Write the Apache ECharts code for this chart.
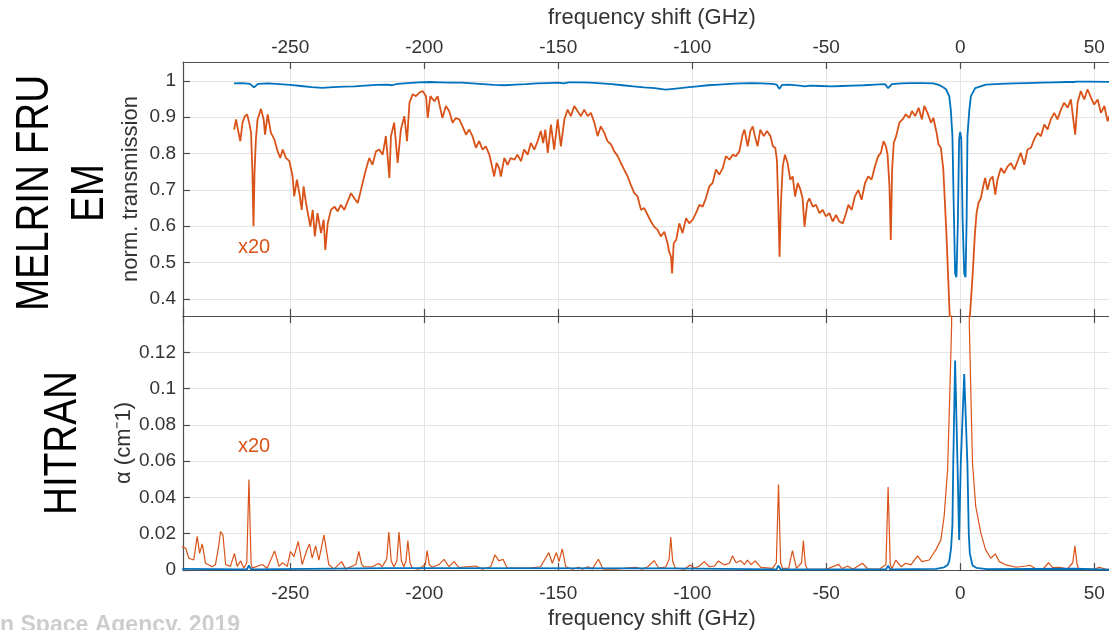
<!DOCTYPE html>
<html>
<head>
<meta charset="utf-8">
<script src="https://cdn.jsdelivr.net/npm/echarts@6/dist/echarts.min.js"></script>
<style>
html,body{margin:0;padding:0;background:#fff;}
#chart{width:1109px;height:630px;}
</style>
</head>
<body>
<div id="chart"></div>
<script>
// ---------- DATA ----------
// frequency shift (GHz) axis extent and tick step
const freqMin = -290, freqMax = 60, freqStep = 50;
// top panel: normalised transmission range
const transMin = 0.353, transMax = 1.052, transStep = 0.1;
// bottom panel: absorption coefficient range
const alphaMin = 0, alphaMax = 0.14, alphaStep = 0.02;

// MELRIN FRU EM measured transmission (orange, x20) [GHz, value]
const measuredX20 = [[-270.9,0.866],[-270.2,0.894],[-269.4,0.862],[-268.6,0.834],[-267.8,0.885],[-266.9,0.903],[-266.1,0.908],[-265.3,0.885],[-264.6,0.857],[-264.1,0.75],[-263.7,0.600],[-263.3,0.75],[-262.8,0.839],[-262.2,0.894],[-260.9,0.923],[-259.9,0.894],[-259.4,0.852],[-258.4,0.908],[-257.2,0.857],[-255.9,0.839],[-254.7,0.806],[-253.7,0.788],[-252.8,0.811],[-251.6,0.788],[-250.3,0.779],[-249.1,0.737],[-248.5,0.682],[-247.5,0.728],[-246.6,0.691],[-245.7,0.645],[-245.0,0.710],[-244.1,0.664],[-243.2,0.627],[-242.5,0.599],[-241.6,0.645],[-240.8,0.572],[-239.8,0.636],[-238.5,0.581],[-237.5,0.618],[-236.9,0.535],[-236.0,0.608],[-234.8,0.645],[-233.5,0.654],[-232.3,0.641],[-231.1,0.659],[-229.8,0.645],[-228.6,0.668],[-227.3,0.691],[-226.1,0.677],[-224.8,0.664],[-223.6,0.700],[-222.4,0.737],[-221.4,0.765],[-220.5,0.788],[-219.3,0.769],[-218.0,0.806],[-216.8,0.811],[-215.5,0.797],[-214.3,0.848],[-213.0,0.733],[-212.4,0.848],[-211.2,0.885],[-209.9,0.774],[-208.7,0.866],[-207.4,0.903],[-206.4,0.834],[-205.5,0.940],[-204.3,0.963],[-203.1,0.958],[-201.8,0.968],[-200.6,0.972],[-199.3,0.958],[-198.7,0.898],[-197.7,0.958],[-196.2,0.944],[-195.0,0.958],[-193.2,0.898],[-191.9,0.931],[-190.7,0.917],[-189.4,0.885],[-188.2,0.898],[-186.9,0.894],[-185.7,0.875],[-184.4,0.852],[-183.2,0.866],[-182.0,0.848],[-180.7,0.816],[-179.5,0.834],[-178.2,0.811],[-177.0,0.820],[-175.7,0.797],[-174.7,0.765],[-173.9,0.737],[-173.0,0.774],[-172.0,0.760],[-171.4,0.737],[-170.1,0.788],[-168.9,0.769],[-167.7,0.788],[-166.4,0.783],[-165.2,0.797],[-163.9,0.779],[-162.7,0.811],[-161.4,0.797],[-160.2,0.829],[-158.9,0.811],[-157.7,0.834],[-156.5,0.862],[-155.6,0.829],[-154.8,0.866],[-153.9,0.802],[-152.7,0.880],[-151.5,0.811],[-150.2,0.894],[-149.0,0.820],[-147.7,0.894],[-146.5,0.921],[-145.3,0.903],[-144.0,0.931],[-142.8,0.917],[-141.5,0.903],[-140.3,0.921],[-139.0,0.903],[-137.8,0.912],[-136.5,0.885],[-135.3,0.848],[-134.1,0.875],[-132.8,0.857],[-131.6,0.834],[-130.3,0.825],[-129.1,0.806],[-127.8,0.793],[-126.6,0.774],[-125.4,0.756],[-124.1,0.737],[-122.9,0.714],[-121.6,0.691],[-120.4,0.682],[-119.1,0.645],[-117.9,0.650],[-116.6,0.631],[-115.4,0.613],[-114.2,0.599],[-112.9,0.590],[-111.7,0.572],[-110.4,0.585],[-109.2,0.553],[-108.6,0.530],[-107.9,0.516],[-107.5,0.470],[-106.9,0.553],[-106.0,0.562],[-104.8,0.608],[-103.6,0.581],[-102.3,0.622],[-101.1,0.608],[-99.8,0.618],[-98.6,0.636],[-97.3,0.659],[-96.1,0.654],[-94.9,0.677],[-93.6,0.710],[-92.4,0.719],[-91.1,0.756],[-89.9,0.742],[-88.6,0.760],[-87.4,0.793],[-86.1,0.783],[-84.9,0.797],[-83.7,0.793],[-82.4,0.806],[-81.2,0.852],[-80.5,0.866],[-79.3,0.820],[-78.3,0.862],[-77.4,0.875],[-76.6,0.848],[-75.6,0.820],[-74.6,0.866],[-73.3,0.848],[-72.1,0.862],[-70.8,0.848],[-69.9,0.820],[-69.0,0.816],[-68.4,0.783],[-67.9,0.664],[-67.4,0.516],[-66.9,0.664],[-66.2,0.765],[-65.4,0.797],[-64.4,0.774],[-63.4,0.728],[-62.5,0.737],[-61.6,0.682],[-60.6,0.719],[-59.6,0.700],[-58.8,0.677],[-58.1,0.599],[-57.1,0.664],[-56.3,0.677],[-55.0,0.654],[-53.8,0.659],[-52.5,0.636],[-51.3,0.645],[-50.1,0.627],[-48.8,0.636],[-47.6,0.613],[-46.3,0.631],[-45.1,0.613],[-43.8,0.608],[-42.6,0.636],[-41.7,0.659],[-40.5,0.645],[-39.3,0.682],[-38.0,0.700],[-36.8,0.673],[-35.5,0.719],[-34.3,0.737],[-33.1,0.728],[-31.8,0.765],[-30.6,0.793],[-29.6,0.802],[-28.6,0.834],[-27.7,0.820],[-27.1,0.797],[-26.4,0.710],[-25.9,0.562],[-25.4,0.756],[-24.8,0.829],[-23.9,0.848],[-22.7,0.885],[-21.5,0.894],[-20.3,0.908],[-19.0,0.898],[-18.0,0.917],[-16.8,0.903],[-15.5,0.926],[-14.3,0.894],[-13.4,0.931],[-12.2,0.912],[-10.9,0.885],[-10.0,0.898],[-8.8,0.857],[-8.1,0.825],[-7.2,0.816],[-6.3,0.756],[-5.7,0.664],[-5.1,0.572],[-4.5,0.461],[-3.9,0.350],[-3.3,0.2],[0,0.05],[3.0,0.2],[3.6,0.350],[4.6,0.461],[5.5,0.581],[6.1,0.636],[6.8,0.664],[7.7,0.677],[8.6,0.710],[9.3,0.733],[10.2,0.700],[11.1,0.728],[12.1,0.737],[13.1,0.687],[13.9,0.728],[15.2,0.760],[16.4,0.746],[17.7,0.765],[18.9,0.774],[20.2,0.756],[21.4,0.779],[22.6,0.802],[23.9,0.769],[25.1,0.811],[26.4,0.816],[27.6,0.839],[28.9,0.857],[30.1,0.848],[31.4,0.880],[32.6,0.866],[33.8,0.894],[35.1,0.912],[36.3,0.894],[37.6,0.921],[38.8,0.940],[40.1,0.926],[41.3,0.949],[42.2,0.894],[42.9,0.852],[43.8,0.940],[45.0,0.972],[46.3,0.949],[47.5,0.977],[48.8,0.954],[50.0,0.935],[51.3,0.949],[52.5,0.912],[53.8,0.931],[55.0,0.889],[55.8,0.905]];

// MELRIN FRU EM measured transmission (blue) [GHz, value]
const measured = [[-271,0.993],[-268,0.994],[-265,0.992],[-263.5,0.982],[-262,0.992],[-258,0.993],[-254,0.991],[-250,0.989],[-246,0.986],[-242,0.983],[-238,0.981],[-234,0.983],[-230,0.984],[-226,0.985],[-222,0.987],[-218,0.989],[-214,0.990],[-212,0.988],[-210,0.992],[-206,0.994],[-202,0.996],[-198,0.997],[-194,0.996],[-190,0.995],[-186,0.995],[-182,0.993],[-178,0.991],[-174,0.989],[-170,0.988],[-166,0.990],[-162,0.991],[-158,0.993],[-154,0.994],[-150,0.995],[-148,0.993],[-146,0.996],[-142,0.996],[-138,0.995],[-134,0.993],[-130,0.991],[-126,0.988],[-122,0.985],[-118,0.982],[-114,0.980],[-110,0.976],[-106,0.979],[-102,0.982],[-98,0.985],[-94,0.988],[-90,0.990],[-86,0.992],[-82,0.993],[-78,0.994],[-74,0.993],[-70,0.992],[-68.5,0.990],[-67.5,0.978],[-66.5,0.989],[-64,0.990],[-60,0.987],[-58,0.985],[-56,0.987],[-52,0.986],[-48,0.985],[-44,0.986],[-40,0.987],[-36,0.988],[-32,0.990],[-28,0.991],[-26.9,0.980],[-25.5,0.991],[-22,0.993],[-18,0.994],[-14,0.994],[-10,0.993],[-8,0.989],[-6.5,0.983],[-5.3,0.977],[-4.1,0.958],[-3.5,0.92],[-2.9,0.848],[-2.4,0.65],[-1.9,0.47],[-1.4,0.46],[-0.9,0.6],[-0.4,0.84],[0,0.86],[0.4,0.84],[0.9,0.62],[1.5,0.47],[2.0,0.46],[2.4,0.62],[2.7,0.848],[3.4,0.92],[4.0,0.958],[5.6,0.98],[9.6,0.99],[15,0.992],[20,0.993],[25,0.994],[30,0.995],[35,0.996],[40,0.997],[42.5,0.997],[43,0.993],[43.5,0.998],[48,0.998],[55.8,0.997]];

// HITRAN absorption coefficient x20 (orange) [GHz, alpha cm^-1]
const hitranX20 = [[-290.3,0.0129],[-289,0.012],[-287.8,0.0065],[-286,0.0055],[-284.7,0.0185],[-283.8,0.0092],[-282.8,0.0144],[-281.6,0.0037],[-279.1,0.0018],[-277.9,0.003],[-276.8,0.012],[-276,0.0212],[-275.1,0.0194],[-274.4,0.008],[-274.1,0.003],[-272.3,0.002],[-270.8,0.0092],[-269.8,0.002],[-268.5,0.005],[-267.3,0.001],[-266.2,0.004],[-265.4,0.0499],[-264.6,0.004],[-264.2,0.001],[-260.4,0.003],[-258.6,0.001],[-255.8,0.0105],[-254.2,0.002],[-252.9,0.004],[-251.1,0.002],[-249.9,0.0102],[-248.6,0.0074],[-247,0.0157],[-245.5,0.003],[-244,0.0102],[-242.8,0.0144],[-241.8,0.0065],[-240.5,0.0133],[-239.3,0.0055],[-237.4,0.0194],[-235.6,0.003],[-233.7,0.0005],[-230.8,0.0046],[-229.3,0.0005],[-225.5,0.003],[-224.4,0.0102],[-223.3,0.003],[-222.5,0.0018],[-219.4,0.0018],[-216.9,0.0037],[-215.7,0.0018],[-214,0.006],[-213.2,0.0209],[-212.3,0.005],[-211.3,0.0018],[-210.2,0.005],[-209.4,0.0209],[-208.5,0.005],[-207.6,0.0018],[-206.8,0.005],[-206.1,0.0162],[-205.3,0.004],[-204.5,0.001],[-202,0.0005],[-199.6,0.003],[-198.9,0.0107],[-198.1,0.003],[-197,0.0015],[-194.5,0.003],[-192.6,0.0059],[-190.8,0.0018],[-188.9,0.0046],[-187,0.0013],[-184.5,0.0018],[-180.8,0.0022],[-178.3,0.0005],[-175.2,0.0018],[-173.6,0.0083],[-172.1,0.005],[-170.6,0.0059],[-169,0.001],[-165.9,0.001],[-160.9,0.001],[-156.6,0.0018],[-153.5,0.0096],[-152.2,0.0037],[-150.7,0.0096],[-149.7,0.0046],[-148.5,0.0116],[-147.2,0.0018],[-144.7,0.0005],[-142.3,0.0015],[-141,0.0005],[-138.8,0.0018],[-137.3,0.0005],[-135,0.0059],[-133.3,0.0005],[-128.6,0.0005],[-121.1,0.0015],[-118.6,0.0005],[-116.6,0.0018],[-114.2,0.0052],[-112.5,0.001],[-109.8,0.0018],[-108.6,0.006],[-108,0.0181],[-107.3,0.005],[-106.3,0.001],[-102.9,0.0004],[-100.8,0.0028],[-99.2,0.001],[-97.3,0.0022],[-95.5,0.0046],[-93.6,0.0018],[-91.7,0.0022],[-90.2,0.005],[-88,0.0028],[-86.1,0.0037],[-85,0.0078],[-83.6,0.004],[-81.9,0.0052],[-80.5,0.003],[-79.4,0.0055],[-78,0.003],[-76.5,0.005],[-74.4,0.0015],[-70,0.0009],[-68.6,0.004],[-67.8,0.0471],[-67,0.004],[-66.3,0.0009],[-64,0.001],[-62.6,0.0107],[-61.1,0.0009],[-59.2,0.004],[-58.5,0.0162],[-57.8,0.003],[-57,0.0004],[-52.6,0.0004],[-49.9,0.0004],[-45.4,0.0031],[-44,0.0008],[-42,0.0022],[-40,0.0004],[-36.5,0.0037],[-34.5,0.0007],[-30.2,0.0004],[-27.7,0.003],[-26.9,0.0458],[-26.1,0.003],[-25.5,0.0007],[-24,0.0055],[-22.1,0.0018],[-20.3,0.0037],[-18.4,0.0028],[-15.9,0.0078],[-14.3,0.0046],[-11.6,0.0055],[-9.1,0.0111],[-7.2,0.0166],[-6,0.0295],[-4.7,0.0554],[-3.9,0.096],[-3.2,0.135],[-1.9,2.3],[-0.4,0.33],[1.5,2.16],[3.4,0.135],[4,0.096],[4.6,0.0586],[5.8,0.035],[7.7,0.0203],[9.5,0.0111],[11.4,0.0065],[13.1,0.0089],[14.6,0.0046],[17.1,0.0028],[20.8,0.0015],[24.5,0.0022],[26,0.0026],[28.2,0.0007],[31,0.0007],[33,0.004],[34.5,0.0013],[37,0.0015],[40.1,0.0007],[42,0.004],[42.8,0.0133],[43.6,0.003],[44.2,0.0007],[46.9,0.0004],[50,0.0004],[51.9,0.0015],[54.4,0.0004],[56,0.0004]];

// HITRAN absorption coefficient (blue) [GHz, alpha cm^-1]
const hitran = [[-290.3,0.0006],[-266.2,0.0003],[-265.4,0.0025],[-264.6,0.0003],[-213.2,0.001],[-209.4,0.001],[-108,0.0009],[-68.6,0.0003],[-67.8,0.0024],[-67,0.0003],[-27.7,0.0003],[-26.9,0.0023],[-26.1,0.0003],[-9,0.0006],[-6,0.0015],[-4.7,0.0028],[-4.1,0.0048],[-3.4,0.012],[-2.9,0.025],[-2.6,0.058],[-1.9,0.1154],[-1.0,0.058],[-0.4,0.0166],[0.2,0.058],[1.5,0.108],[2.7,0.058],[3.2,0.02],[3.6,0.009],[4.6,0.0025],[6,0.0012],[10,0.0005],[42.8,0.0007],[56,0.0002]];

// text
const axisTitleX = 'frequency shift (GHz)';
const axisTitleTop = 'norm. transmission';
const axisTitleBottom = 'α (cm\u207B1)';
const panelTitleTop = 'MELRIN FRU\nEM';
const panelTitleBottom = 'HITRAN';
const scaleNote = 'x20';
const creditText = 'ean Space Agency, 2019';

// ---------- STYLE ----------
const ORANGE = '#D95319', BLUE = '#0072BD';
const AXC = '#4d4d4d', GRIDC = '#e4e4e4', LABC = '#333333';
const FONT = "'Liberation Sans', Arial, sans-serif";

const chart = echarts.init(document.getElementById('chart'), null, {renderer: 'canvas'});

function xAx(grid, pos, labels) {
  return {
    type: 'value', gridIndex: grid, position: pos,
    min: freqMin, max: freqMax, minInterval: freqStep, maxInterval: freqStep,
    name: labels ? axisTitleX : '', nameLocation: 'middle',
    nameGap: pos === 'top' ? 33 : 38, nameMoveOverlap: false,
    nameTextStyle: {fontFamily: FONT, fontSize: 22, color: LABC},
    axisLine: {show: true, onZero: false, lineStyle: {color: AXC, width: 1.2}},
    axisTick: {show: true, inside: true, length: 7, lineStyle: {color: AXC, width: 1.2}},
    axisLabel: {show: labels, showMinLabel: false, showMaxLabel: false, margin: pos === 'top' ? 5 : 14,
      fontFamily: FONT, fontSize: 19, color: LABC},
    splitLine: {show: labels, lineStyle: {color: GRIDC, width: 1}}
  };
}
function yAx(grid, mn, mx, step, name, gap, showMin) {
  return {
    type: 'value', gridIndex: grid, position: 'left',
    min: mn, max: mx, minInterval: step, maxInterval: step,
    name: name, nameLocation: 'middle', nameGap: gap, nameMoveOverlap: false,
    nameTextStyle: {fontFamily: FONT, fontSize: 22, color: LABC},
    axisLine: {show: true, onZero: false, lineStyle: {color: AXC, width: 1.2}},
    axisTick: {show: true, inside: true, length: 7, lineStyle: {color: AXC, width: 1.2}},
    axisLabel: {showMinLabel: showMin, showMaxLabel: false, margin: 7,
      fontFamily: FONT, fontSize: 19, color: LABC},
    splitLine: {show: true, lineStyle: {color: GRIDC, width: 1}}
  };
}

const option = {
  animation: false,
  backgroundColor: '#ffffff',
  grid: [
    {left: 183, top: 62, width: 938, height: 254, containLabel: false, outerBoundsMode: 'none'},
    {left: 183, top: 316, width: 938, height: 254, containLabel: false, outerBoundsMode: 'none'}
  ],
  xAxis: [xAx(0, 'top', true), xAx(0, 'bottom', false), xAx(1, 'bottom', true), xAx(1, 'top', false)],
  yAxis: [
    yAx(0, transMin, transMax, transStep, axisTitleTop, 41, false),
    yAx(1, alphaMin, alphaMax, alphaStep, axisTitleBottom, 48, true)
  ],
  series: [
    {type: 'line', xAxisIndex: 0, yAxisIndex: 0, data: measuredX20, showSymbol: false, clip: true,
      lineStyle: {color: ORANGE, width: 1.8}, itemStyle: {color: ORANGE}, z: 2},
    {type: 'line', xAxisIndex: 0, yAxisIndex: 0, data: measured, showSymbol: false, clip: true,
      lineStyle: {color: BLUE, width: 1.8}, itemStyle: {color: BLUE}, z: 3},
    {type: 'line', xAxisIndex: 2, yAxisIndex: 1, data: hitranX20, showSymbol: false, clip: true,
      lineStyle: {color: ORANGE, width: 1.2}, itemStyle: {color: ORANGE}, z: 2},
    {type: 'line', xAxisIndex: 2, yAxisIndex: 1, data: hitran, showSymbol: false, clip: true,
      lineStyle: {color: BLUE, width: 1.8}, itemStyle: {color: BLUE}, z: 3}
  ],
  graphic: [
    {type: 'text', x: 63, y: 193, rotation: Math.PI / 2, scaleX: 0.84, z: 10,
      style: {text: panelTitleTop, fill: '#000', fontSize: 46, lineHeight: 55,
        fontFamily: FONT, align: 'center', verticalAlign: 'middle'}},
    {type: 'text', x: 63, y: 443, rotation: Math.PI / 2, scaleX: 0.84, z: 10,
      style: {text: panelTitleBottom, fill: '#000', fontSize: 46,
        fontFamily: FONT, align: 'center', verticalAlign: 'middle'}},
    {type: 'text', x: 254, y: 247, z: 10,
      style: {text: scaleNote, fill: ORANGE, fontSize: 20, fontFamily: FONT, align: 'center', verticalAlign: 'middle'}},
    {type: 'text', x: 254, y: 446, z: 10,
      style: {text: scaleNote, fill: ORANGE, fontSize: 20, fontFamily: FONT, align: 'center', verticalAlign: 'middle'}},
    {type: 'text', x: 240, y: 626, z: 10,
      style: {text: creditText, fill: '#cdcdcd', fontSize: 23, fontWeight: 'bold',
        fontFamily: FONT, align: 'right', verticalAlign: 'middle'}}
  ]
};
chart.setOption(option);
</script>
</body>
</html>
